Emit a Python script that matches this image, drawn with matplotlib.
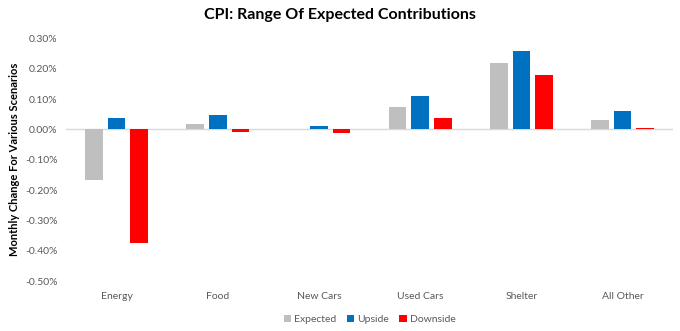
import matplotlib
matplotlib.use('Agg')
import matplotlib.pyplot as plt
import numpy as np
from matplotlib.ticker import FuncFormatter

plt.rcParams['font.family'] = ['Lato', 'DejaVu Sans']

# categories and scenario contributions (percentage points)
categories = ['Energy', 'Food', 'New Cars', 'Used Cars', 'Shelter', 'All Other']
expected = [-0.168, 0.017, 0.0, 0.073, 0.218, 0.030]
upside = [0.037, 0.046, 0.011, 0.109, 0.258, 0.060]
downside = [-0.375, -0.010, -0.012, 0.036, 0.179, 0.003]

series = [('Expected', expected, '#BFBFBF'),
          ('Upside', upside, '#0070C0'),
          ('Downside', downside, '#FF0000')]

fig = plt.figure(figsize=(6.8, 3.31), dpi=100)
ax = fig.add_axes([0.097, 0.151, 0.893, 0.733])

x = np.arange(len(categories))
w = 0.173
step = 0.223
for i, (name, vals, col) in enumerate(series):
    ax.bar(x + (i - 1) * step, vals, w, color=col, label=name, zorder=3)

ax.axhline(0, color='#D9D9D9', lw=1, zorder=2)
ax.set_xlim(-0.5, len(categories) - 0.5)
ax.set_ylim(-0.5, 0.3)
ax.set_yticks(np.arange(-0.5, 0.31, 0.1))
ax.yaxis.set_major_formatter(FuncFormatter(lambda v, p: '%.2f%%' % (round(v, 4) + 0.0)))
ax.set_xticks(x)
ax.set_xticklabels(categories)
ax.tick_params(axis='both', length=0, labelsize=7.5, colors='#595959')
ax.tick_params(axis='x', pad=8)
ax.tick_params(axis='y', pad=6)
for s in ax.spines.values():
    s.set_visible(False)

ax.set_ylabel('Monthly Change For Various Scenarios', fontsize=8, fontweight='bold', labelpad=4)
fig.suptitle('CPI: Range Of Expected Contributions', x=0.5, y=0.975, fontsize=11.5, fontweight='bold')

ax.legend(loc='upper center', bbox_to_anchor=(0.5, -0.1), ncol=3, frameon=False,
          fontsize=7.5, handlelength=0.7, handleheight=0.7, handletextpad=0.3,
          columnspacing=1.0, labelcolor='#595959')

plt.savefig('out.png', dpi=100)
